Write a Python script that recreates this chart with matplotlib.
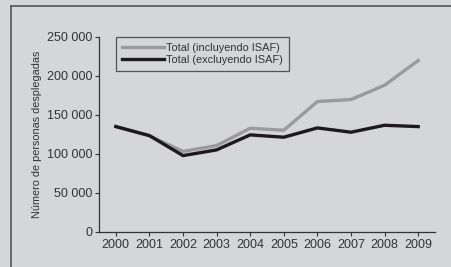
import matplotlib
matplotlib.use('Agg')
import matplotlib.pyplot as plt
from matplotlib.lines import Line2D
from matplotlib.ticker import FuncFormatter

# datos
years = [2000, 2001, 2002, 2003, 2004, 2005, 2006, 2007, 2008, 2009]
incl_isaf = [135000, 123000, 103000, 110500, 132700, 130100, 166800, 169400, 187700, 219300]
excl_isaf = [134800, 123300, 97700, 105000, 124200, 121200, 133100, 127600, 136500, 134800]

bg = '#d5d6d8'
plt.rcParams['font.family'] = ['Liberation Sans', 'DejaVu Sans']

fig = plt.figure(figsize=(4.52, 2.67), dpi=100, facecolor=bg)
ax = fig.add_axes([99 / 452, 35 / 267, 336 / 452, 195.5 / 267])
ax.set_facecolor(bg)

ax.plot(years, incl_isaf, color='#9a9a9a', lw=2.4, label='Total (incluyendo ISAF)')
ax.plot(years, excl_isaf, color='#1e1a1b', lw=2.4, label='Total (excluyendo ISAF)')

ax.set_xlim(1999.5, 2009.5)
ax.set_ylim(0, 250000)
ax.set_xticks(years)
ax.set_yticks(range(0, 250001, 50000))
ax.yaxis.set_major_formatter(FuncFormatter(lambda v, p: f'{int(v):,}'.replace(',', ' ')))
ax.tick_params(labelsize=9, colors='#333333', length=3, width=0.8, pad=2)
for s in ['top', 'right']:
    ax.spines[s].set_visible(False)
for s in ['left', 'bottom']:
    ax.spines[s].set_color('#333333')
    ax.spines[s].set_linewidth(0.9)
ax.set_ylabel('Número de personas desplegadas', fontsize=7.8, color='#333333', labelpad=3)

leg = ax.legend(loc='upper left', bbox_to_anchor=(0.05, 1.0), fontsize=7.9, frameon=True,
                fancybox=False, handlelength=3.8, handletextpad=0.2, borderpad=0.55,
                labelspacing=0.25, borderaxespad=0.0)
leg.get_frame().set_facecolor(bg)
leg.get_frame().set_edgecolor('#333333')
leg.get_frame().set_linewidth(0.9)
for t in leg.get_texts():
    t.set_color('#333333')

# marco exterior (borde superior e izquierdo)
fig.add_artist(Line2D([11 / 452, 11 / 452], [0, 1 - 5.5 / 267], transform=fig.transFigure, color='#555555', lw=1.2))
fig.add_artist(Line2D([11 / 452, 1], [1 - 5.5 / 267, 1 - 5.5 / 267], transform=fig.transFigure, color='#555555', lw=1.2))

fig.savefig('out.png', dpi=100, facecolor=bg)
